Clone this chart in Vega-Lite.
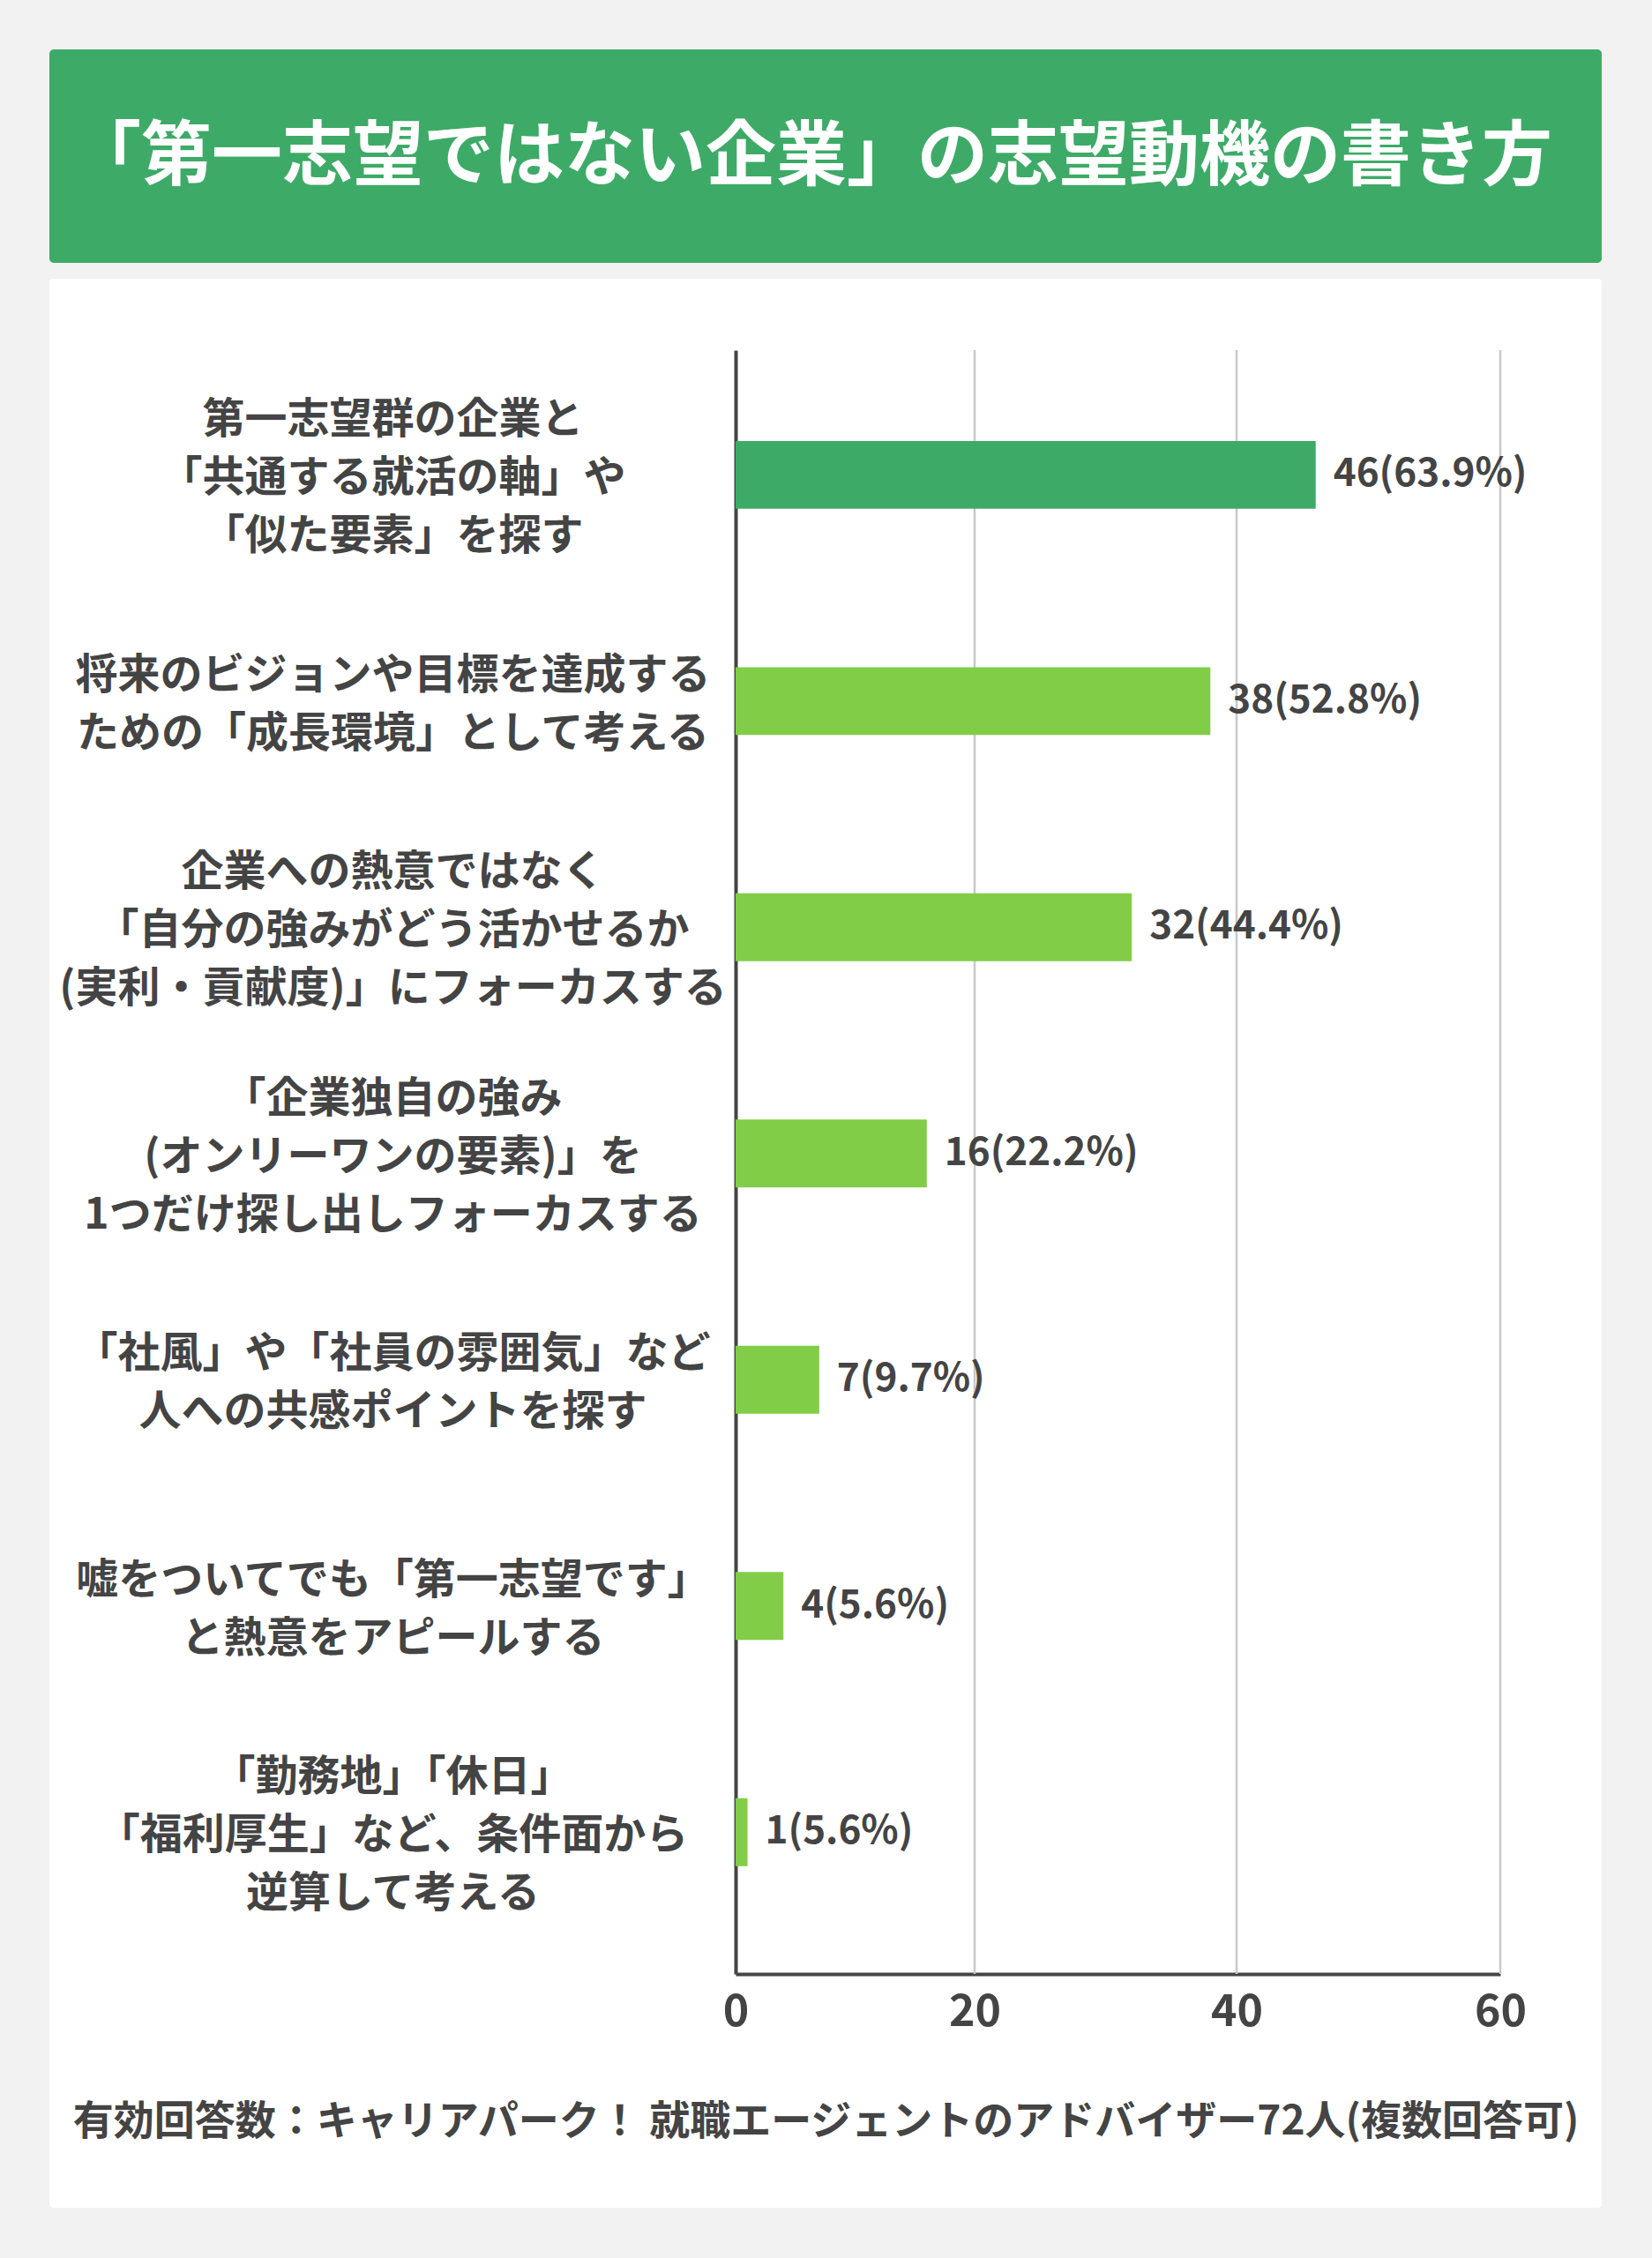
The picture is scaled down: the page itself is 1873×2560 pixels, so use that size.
{
  "$schema": "https://vega.github.io/schema/vega-lite/v6.json",
  "background": "#f2f2f2",
  "padding": {"left": 56, "top": 56, "right": 57, "bottom": 57},
  "spacing": 18,
  "config": {"font": "Noto Sans CJK JP", "view": {"stroke": null}},
  "datasets": {
    "header": [{"title": "「第一志望ではない企業」の志望動機の書き方"}],
    "grid": [{"g": 20}, {"g": 40}, {"g": 60}],
    "answers": [
      {"label": "第一志望群の企業と\n「共通する就活の軸」や\n「似た要素」を探す", "count": 46, "text": "46(63.9%)", "group": "top"},
      {"label": "将来のビジョンや目標を達成する\nための「成長環境」として考える", "count": 38, "text": "38(52.8%)", "group": "other"},
      {"label": "企業への熱意ではなく\n「自分の強みがどう活かせるか\n(実利・貢献度)」にフォーカスする", "count": 32, "text": "32(44.4%)", "group": "other"},
      {"label": "「企業独自の強み\n(オンリーワンの要素)」を\n1つだけ探し出しフォーカスする", "count": 16, "text": "16(22.2%)", "group": "other"},
      {"label": "「社風」や「社員の雰囲気」など\n人への共感ポイントを探す", "count": 7, "text": "7(9.7%)", "group": "other"},
      {"label": "嘘をついてでも「第一志望です」\nと熱意をアピールする", "count": 4, "text": "4(5.6%)", "group": "other"},
      {"label": "「勤務地」「休日」\n「福利厚生」など、条件面から\n逆算して考える", "count": 1, "text": "1(5.6%)", "group": "other"}
    ]
  },
  "vconcat": [
    {
      "width": 1760,
      "height": 242,
      "view": {"fill": "#3eaa67", "stroke": null, "cornerRadius": 5},
      "data": {"name": "header"},
      "mark": {"type": "text", "color": "#ffffff", "fontSize": 80, "fontWeight": "bold", "align": "center", "baseline": "middle", "dx": -16, "dy": 2, "font": "Noto Sans CJK JP"},
      "encoding": {"text": {"field": "title", "type": "nominal"}}
    },
    {
      "width": 1760,
      "height": 2187,
      "view": {"fill": "#ffffff", "stroke": null, "cornerRadius": 4},
      "resolve": {"scale": {"y": "independent"}},
      "layer": [
        {
          "data": {"name": "grid"},
          "mark": {"type": "rule", "color": "#c8c8c8", "strokeWidth": 2.5},
          "encoding": {
            "x": {
              "field": "g",
              "type": "quantitative",
              "scale": {"domain": [0, 20, 40, 60], "range": [778, 1049, 1346, 1645], "nice": false, "zero": false},
              "axis": {
                "values": [0, 20, 40, 60],
                "offset": -265,
                "grid": false,
                "ticks": false,
                "tickSize": 0,
                "domainColor": "#444444",
                "domainWidth": 4,
                "labelFontSize": 50,
                "labelFontWeight": "bold",
                "labelColor": "#444444",
                "labelPadding": 18,
                "labelFlush": false,
                "title": "有効回答数：キャリアパーク！ 就職エージェントのアドバイザー72人(複数回答可)",
                "titleFontSize": 46,
                "titleFontWeight": "bold",
                "titleColor": "#444444",
                "titleX": 880,
                "titleY": 167,
                "titleAlign": "center",
                "titleBaseline": "middle"
              }
            },
            "y": {"datum": 0, "type": "quantitative", "scale": {"domain": [0, 1], "range": [1922, 81], "nice": false, "zero": false}, "axis": null},
            "y2": {"datum": 1}
          }
        },
        {
          "data": {"name": "answers"},
          "encoding": {
            "y": {
              "field": "label",
              "type": "nominal",
              "sort": null,
              "scale": {"type": "band", "range": [81, 1922], "paddingInner": 0.7, "paddingOuter": 0.439, "align": 0.457},
              "axis": {
                "title": null,
                "offset": -778,
                "ticks": false,
                "tickSize": 0,
                "grid": false,
                "domainColor": "#444444",
                "domainWidth": 4,
                "labelFontSize": 48,
                "labelFontWeight": "bold",
                "labelColor": "#444444",
                "labelAlign": "center",
                "labelBaseline": "middle",
                "labelPadding": 389,
                "labelLimit": 0,
                "labelLineHeight": 66,
                "labelOffset": {"condition": {"test": "length(split(datum.value, '\\n')) >= 3", "value": -61}, "value": -28},
                "labelExpr": "split(datum.label, '\\n')"
              }
            },
            "x": {
              "field": "count",
              "type": "quantitative",
              "axis": {
                "values": [0, 20, 40, 60],
                "offset": -265,
                "grid": false,
                "ticks": false,
                "tickSize": 0,
                "domainColor": "#444444",
                "domainWidth": 4,
                "labelFontSize": 50,
                "labelFontWeight": "bold",
                "labelColor": "#444444",
                "labelPadding": 18,
                "labelFlush": false,
                "title": "有効回答数：キャリアパーク！ 就職エージェントのアドバイザー72人(複数回答可)",
                "titleFontSize": 46,
                "titleFontWeight": "bold",
                "titleColor": "#444444",
                "titleX": 880,
                "titleY": 167,
                "titleAlign": "center",
                "titleBaseline": "middle"
              }
            }
          },
          "layer": [
            {
              "mark": {"type": "bar"},
              "encoding": {
                "color": {"field": "group", "type": "nominal", "scale": {"domain": ["top", "other"], "range": ["#3eaa67", "#82cd47"]}, "legend": null}
              }
            },
            {
              "mark": {"type": "text", "align": "left", "baseline": "middle", "dx": 20, "fontSize": 44, "fontWeight": "bold", "color": "#444444"},
              "encoding": {"text": {"field": "text", "type": "nominal"}}
            }
          ]
        }
      ]
    }
  ]
}
